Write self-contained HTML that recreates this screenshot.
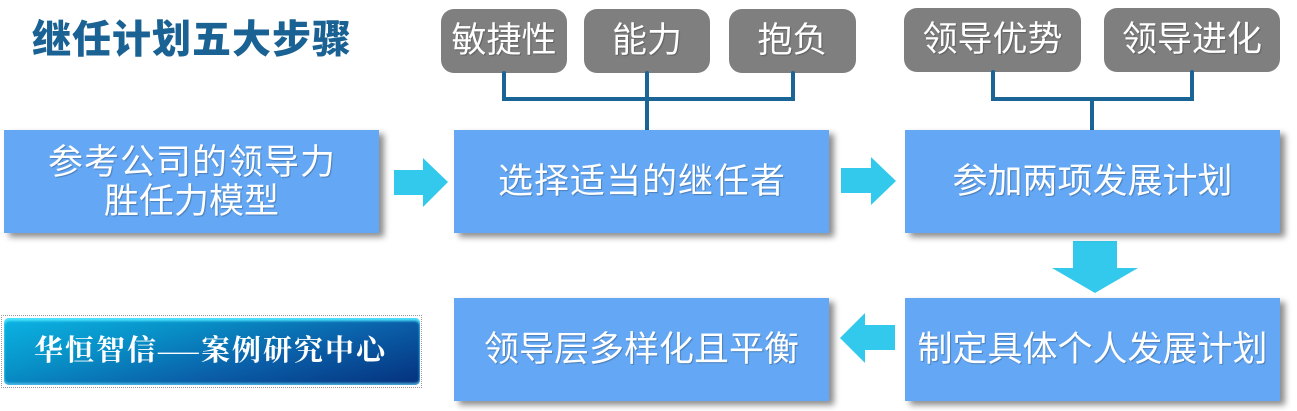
<!DOCTYPE html>
<html>
<head>
<meta charset="utf-8">
<style>
  html,body{margin:0;padding:0;}
  body{width:1297px;height:411px;position:relative;background:#ffffff;overflow:hidden;
       font-family:"Liberation Sans","Noto Sans CJK SC",sans-serif;}
  .title{position:absolute;left:32px;top:20px;height:42px;line-height:42px;font-size:39px;font-weight:900;
         color:#1a6294;white-space:nowrap;letter-spacing:1px;}
  .box{position:absolute;width:375px;height:103px;background:#64a8f5;
       box-shadow:5px 4px 6px rgba(0,0,0,0.45);display:flex;flex-direction:column;
       align-items:center;justify-content:center;color:#fff;font-size:35px;line-height:39px;
       text-shadow:1px 1px 1px rgba(0,0,0,0.25);white-space:nowrap;}
  .sp{letter-spacing:1px;padding-left:1px;}
  .pill{position:absolute;height:64px;background:#7f7f7f;border-radius:13px;color:#fff;
        font-size:35px;line-height:64px;text-align:center;white-space:nowrap;
        text-shadow:1px 1px 1px rgba(0,0,0,0.25);}
  svg{position:absolute;left:0;top:0;}
  .logo-border{position:absolute;left:1px;top:315px;width:421px;height:73px;border:1px dotted #9a9a9a;box-sizing:border-box;}
  .logo{position:absolute;left:4px;top:318px;width:416px;height:67px;border-radius:5px;
        background:linear-gradient(165deg,#0cb4e4 0%,#0892c8 30%,#0a5ca6 65%,#05307c 100%);
        box-shadow:inset 0 3px 2px rgba(80,230,255,0.95), inset 0 -2px 2px rgba(90,200,240,0.8);
        overflow:hidden;}
  .logo-text{position:absolute;left:30px;top:0;height:67px;line-height:67px;color:#fff;
        font-family:"Liberation Serif","Noto Serif CJK SC",serif;font-size:29px;font-weight:bold;letter-spacing:2px;white-space:nowrap;}
  .dash{display:inline-block;transform:scaleX(1.4);transform-origin:left center;margin-right:12px;font-weight:normal;}
</style>
</head>
<body>

<div class="title">继任计划五大步骤</div>

<!-- pills -->
<div class="pill" style="left:441px;top:9px;width:126px;">敏捷性</div>
<div class="pill" style="left:584px;top:9px;width:126px;">能力</div>
<div class="pill" style="left:729px;top:9px;width:127px;">抱负</div>
<div class="pill" style="left:904px;top:8px;width:177px;">领导优势</div>
<div class="pill" style="left:1104px;top:8px;width:176px;">领导进化</div>

<svg width="1297" height="411" viewBox="0 0 1297 411">
  <g stroke="#1a6496" stroke-width="4" fill="none" stroke-linecap="round" stroke-linejoin="miter">
    <path d="M504 73 V99 H793 V73"/>
    <path d="M647 73 V130"/>
    <path d="M993 72 V99 H1192 V72"/>
    <path d="M1092 99 V130"/>
  </g>
  <g fill="#33c9ec">
    <polygon points="394,170 423,170 423,158 448,182 423,207 423,195 394,195"/>
    <polygon points="841,168 871,168 871,157 896,181 871,205 871,193 841,193"/>
    <polygon points="1073,241 1117,241 1117,268 1138,268 1095,293 1052,268 1073,268"/>
    <polygon points="840,338 865,313 865,325 895,325 895,350 865,350 865,363"/>
  </g>
</svg>

<!-- boxes -->
<div class="box" style="left:4px;top:130px;">
  <div class="sp">参考公司的领导力</div>
  <div>胜任力模型</div>
</div>
<div class="box" style="left:454px;top:130px;"><div class="sp">选择适当的继任者</div></div>
<div class="box" style="left:905px;top:130px;"><div>参加两项发展计划</div></div>
<div class="box" style="left:454px;top:298px;"><div>领导层多样化且平衡</div></div>
<div class="box" style="left:905px;top:298px;"><div>制定具体个人发展计划</div></div>

<!-- logo -->
<div class="logo-border"></div>
<div class="logo">
  <div class="logo-text">华恒智信<span class="dash">—</span>案例研究中心</div>
</div>

</body>
</html>
